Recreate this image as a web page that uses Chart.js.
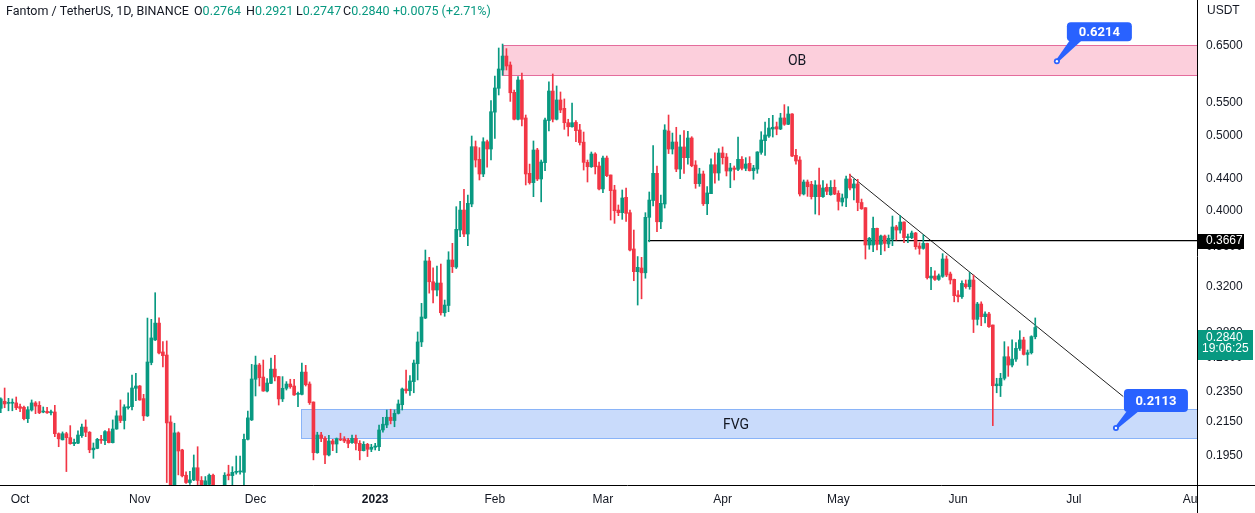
<!DOCTYPE html>
<html lang="en">
<head>
<meta charset="UTF-8">
<title>Fantom / TetherUS, 1D</title>
<style>
  body { margin: 0; background: #ffffff; }
  .wrap { position: relative; width: 1255px; height: 513px; }
</style>
<script src="https://cdn.jsdelivr.net/npm/chart.js"></script>
</head>
<body>
<div class="wrap"><canvas id="chart"></canvas></div>
<script>
// day numbers are counted from 1 Oct 2022; the first candle is 26 Sep 2022
const firstDay = -5;

const opens = [
  .2239,.2286,.2272,.2273,.2275,.2250,.2246,.2172,.2228,.2275,
  .2259,.2215,.2219,.2210,.2215,.2078,.2041,.2078,.2054,.2018,
  .2021,.2066,.2119,.2087,.1982,.1990,.2044,.2036,.2091,.2024,
  .2107,.2190,.2160,.2243,.2250,.2375,.2391,.2304,.2190,.2562,
  .2738,.2877,.2643,.2619,.2151,.1760,.2083,.1981,.1839,.1800,
  .1814,.1880,.1811,.1775,.1790,.1839,.1740,.1720,.1765,.1845,
  .1837,.1855,.1857,.1855,.2044,.2164,.2439,.2543,.2455,.2356,
  .2410,.2513,.2458,.2302,.2375,.2405,.2391,.2333,.2333,.2491,
  .2405,.2281,.1965,.2070,.2050,.1952,.2034,.2016,.2044,.2046,
  .2040,.2024,.2050,.2020,.1977,.2014,.1985,.1997,.2000,.2101,
  .2132,.2181,.2160,.2206,.2263,.2370,.2358,.2422,.2553,.2722,
  .2920,.3454,.3249,.3171,.3237,.2966,.3030,.3464,.3392,.3783,
  .4012,.3739,.4084,.4834,.4657,.4461,.4905,.4801,.5351,.5740,
  .6057,.6311,.6147,.5672,.5240,.5882,.5260,.4470,.4349,.4787,
  .4396,.4612,.5220,.5694,.5240,.5546,.5411,.5187,.5126,.5192,
  .5077,.4899,.4616,.4557,.4731,.4567,.4269,.4675,.4448,.4256,
  .4012,.3981,.4165,.3981,.3578,.3347,.3383,.3336,.3927,.4126,
  .4470,.3876,.4084,.5062,.4801,.4901,.4526,.4830,.4680,.4959,
  .4580,.4336,.4461,.4087,.4210,.4584,.4474,.4745,.4689,.4500,
  .4540,.4522,.4658,.4536,.4603,.4504,.4526,.4754,.4920,.4988,
  .5092,.5126,.5092,.5260,.5163,.5322,.4713,.4648,.4206,.4357,
  .4327,.4173,.4319,.4173,.4289,.4198,.4289,.4215,.4108,.4157,
  .4396,.4281,.4332,.4102,.4040,.3620,.3620,.3802,.3627,.3717,
  .3631,.3681,.3817,.3783,.3873,.3699,.3699,.3750,.3609,.3584,
  .3637,.3285,.3304,.3272,.3301,.3474,.3324,.3272,.3125,.3109,
  .3228,.3202,.3266,.2909,.3043,.2932,.2955,.2861,.2393,.2393,
  .2446,.2606,.2543,.2588,.2671,.2738,.2624,.2637,.2764
];
const highs = [
  .2309,.2377,.2306,.2302,.2315,.2268,.2254,.2250,.2295,.2284,
  .2284,.2248,.2246,.2228,.2259,.2083,.2089,.2087,.2128,.2046,
  .2095,.2137,.2164,.2091,.2022,.2050,.2068,.2097,.2109,.2164,
  .2223,.2295,.2263,.2344,.2470,.2482,.2395,.2333,.2920,.2909,
  .3146,.2923,.2724,.2730,.2190,.2143,.2089,.1985,.1857,.1861,
  .1952,.2000,.1832,.1832,.1846,.1845,.1780,.1775,.1853,.1894,
  .1886,.1946,.1946,.2076,.2221,.2548,.2611,.2555,.2581,.2443,
  .2596,.2617,.2460,.2458,.2422,.2439,.2439,.2349,.2558,.2541,
  .2420,.2282,.2087,.2087,.2060,.2068,.2044,.2052,.2081,.2060,
  .2050,.2070,.2070,.2036,.2030,.2020,.2014,.2020,.2132,.2181,
  .2228,.2233,.2228,.2295,.2377,.2506,.2465,.2581,.2803,.3049,
  .3567,.3491,.3386,.3403,.3423,.3079,.3549,.3638,.4052,.4116,
  .4265,.4194,.4988,.4916,.4820,.4963,.4930,.5535,.5951,.6462,
  .6538,.6450,.6202,.5711,.5940,.6004,.5306,.4593,.4916,.4811,
  .4648,.5260,.5848,.5987,.5779,.5678,.5563,.5240,.5497,.5218,
  .5163,.5047,.4648,.4759,.4749,.4621,.4703,.4703,.4448,.4315,
  .4072,.4256,.4281,.4012,.3783,.3499,.3491,.3981,.4231,.4848,
  .4567,.4194,.5157,.5306,.5032,.5118,.5003,.5067,.5058,.4978,
  .4639,.4537,.4500,.4298,.4666,.4749,.4806,.4830,.4738,.4603,
  .4567,.4973,.4694,.4680,.4694,.4576,.4764,.5052,.5197,.5255,
  .5301,.5197,.5333,.5470,.5438,.5330,.4797,.4694,.4383,.4383,
  .4366,.4375,.4540,.4375,.4332,.4375,.4383,.4247,.4206,.4435,
  .4461,.4392,.4392,.4144,.4040,.3702,.3931,.3805,.3728,.3728,
  .3728,.3942,.3835,.3946,.3876,.3739,.3772,.3757,.3645,.3731,
  .3640,.3390,.3356,.3324,.3529,.3505,.3343,.3275,.3165,.3259,
  .3266,.3340,.3314,.3058,.3063,.2975,.2970,.2861,.2446,.2482,
  .2724,.2684,.2738,.2716,.2813,.2760,.2658,.2772,.2921
];
const lows = [
  .2210,.2243,.2223,.2223,.2230,.2217,.2164,.2147,.2221,.2204,
  .2204,.2210,.2206,.2196,.2060,.2000,.2040,.1859,.2015,.2006,
  .2018,.2056,.2060,.1965,.1933,.1988,.2020,.2012,.2022,.2022,
  .2105,.2147,.2107,.2233,.2228,.2290,.2293,.2160,.2186,.2545,
  .2733,.2627,.2530,.1800,.1700,.1740,.1841,.1830,.1795,.1790,
  .1810,.1789,.1745,.1750,.1770,.1700,.1690,.1680,.1740,.1814,
  .1770,.1845,.1845,.1785,.2040,.2160,.2322,.2391,.2354,.2349,
  .2408,.2427,.2261,.2284,.2363,.2375,.2325,.2250,.2329,.2391,
  .2265,.1924,.1962,.2030,.1903,.1946,.1977,.1965,.2036,.2024,
  .1994,.2020,.1981,.1924,.1975,.1943,.1971,.1981,.1977,.2087,
  .2115,.2139,.2121,.2202,.2228,.2341,.2325,.2344,.2434,.2685,
  .2915,.3142,.3054,.3116,.2946,.2935,.2975,.3338,.3378,.3710,
  .3710,.3613,.4051,.4553,.4383,.4426,.4550,.4648,.4953,.5628,
  .5961,.6057,.5523,.5229,.5229,.5137,.4319,.4330,.4173,.4375,
  .4110,.4504,.5063,.5199,.5229,.5343,.5087,.4988,.5120,.4905,
  .4858,.4513,.4357,.4548,.4461,.4256,.4222,.4426,.3896,.3858,
  .3946,.3904,.3881,.3557,.3259,.3034,.3090,.3283,.3654,.4060,
  .3764,.3799,.4036,.4737,.4731,.4491,.4400,.4470,.4593,.4557,
  .4277,.4302,.4066,.3957,.4210,.4341,.4379,.4593,.4435,.4285,
  .4383,.4504,.4513,.4504,.4500,.4392,.4470,.4727,.4713,.4968,
  .4973,.5006,.5082,.5147,.5157,.4694,.4593,.4181,.4194,.4177,
  .4144,.3965,.3954,.4165,.4198,.4190,.4198,.4012,.4060,.4051,
  .4256,.4132,.4004,.4020,.3474,.3575,.3549,.3567,.3518,.3557,
  .3592,.3613,.3673,.3747,.3644,.3644,.3688,.3575,.3523,.3575,
  .3275,.3174,.3262,.3262,.3291,.3298,.3228,.3063,.3063,.3093,
  .3187,.3178,.2798,.2861,.2855,.2878,.2841,.2128,.2344,.2318,
  .2434,.2460,.2530,.2571,.2655,.2619,.2541,.2627,.2747
];
const closes = [
  .2302,.2268,.2276,.2276,.2243,.2239,.2172,.2230,.2275,.2254,
  .2210,.2221,.2210,.2217,.2078,.2047,.2078,.2054,.2018,.2026,
  .2070,.2119,.2087,.1982,.1992,.2044,.2038,.2091,.2024,.2107,
  .2190,.2160,.2248,.2250,.2377,.2391,.2295,.2190,.2566,.2754,
  .2877,.2635,.2614,.2145,.1760,.2083,.1975,.1836,.1800,.1814,
  .1880,.1811,.1775,.1809,.1839,.1740,.1720,.1760,.1839,.1837,
  .1855,.1857,.1860,.2044,.2177,.2441,.2543,.2450,.2356,.2412,
  .2513,.2455,.2302,.2375,.2405,.2386,.2329,.2340,.2491,.2400,
  .2277,.1965,.2070,.2050,.1952,.2034,.2016,.2048,.2040,.2034,
  .2020,.2050,.2020,.1977,.2014,.1985,.1997,.2004,.2101,.2137,
  .2181,.2160,.2206,.2268,.2370,.2358,.2427,.2558,.2722,.2929,
  .3454,.3249,.3171,.3237,.2966,.3034,.3464,.3396,.3791,.4012,
  .3739,.4092,.4834,.4648,.4461,.4905,.4801,.5358,.5745,.6075,
  .6311,.6129,.5665,.5240,.5882,.5240,.4461,.4349,.4787,.4396,
  .4621,.5229,.5694,.5240,.5546,.5385,.5187,.5126,.5187,.5067,
  .4893,.4616,.4557,.4731,.4557,.4269,.4675,.4439,.4247,.4004,
  .3981,.4157,.3973,.3567,.3347,.3390,.3336,.3927,.4132,.4470,
  .3876,.4092,.5077,.4801,.4901,.4526,.4830,.4680,.4959,.4571,
  .4336,.4461,.4087,.4219,.4584,.4474,.4745,.4680,.4500,.4540,
  .4522,.4658,.4536,.4594,.4504,.4540,.4759,.4930,.5003,.5107,
  .5118,.5092,.5260,.5163,.5322,.4703,.4635,.4206,.4357,.4297,
  .4173,.4319,.4173,.4281,.4239,.4289,.4206,.4116,.4157,.4396,
  .4281,.4332,.4102,.4027,.3620,.3692,.3802,.3627,.3717,.3637,
  .3692,.3817,.3783,.3873,.3699,.3706,.3750,.3602,.3584,.3637,
  .3288,.3304,.3272,.3307,.3474,.3314,.3266,.3119,.3109,.3234,
  .3202,.3266,.2909,.3043,.2932,.2955,.2847,.2393,.2405,.2446,
  .2606,.2543,.2588,.2671,.2738,.2624,.2637,.2765,.2840
];

const monthDays = [0, 31, 61, 92, 123, 151, 182, 212, 243, 273, 304];
const monthLabels = ['Oct', 'Nov', 'Dec', '2023', 'Feb', 'Mar', 'Apr', 'May', 'Jun', 'Jul', 'Aug'];
const yTicks = [0.65, 0.55, 0.50, 0.44, 0.40, 0.36, 0.32, 0.28, 0.26, 0.235, 0.215, 0.195];

// drawings
const zoneNames = ['OB', 'FVG'];
const zoneStart = [125.0, 72.9];
const zoneTop = [0.6515, 0.2234];
const zoneBottom = [0.5972, 0.2050];
const zoneLabelDay = [201.3, 185.5];
const levelPrice = 0.3667;
const levelStart = 162.7;
const trendDays = [214.8, 285.8];
const trendPrices = [0.4455, 0.2318];
const noteDays = [268.6, 283.9];
const notePrices = [0.6214, 0.2113];
const countdown = '19:06:25';

const UP = '#089981', DOWN = '#f23645', INK = '#131722';
const AXIS_FONT = "'Liberation Sans Narrow', 'Liberation Sans', Arial, sans-serif";
const zoneFill = ['rgba(242, 54, 110, 0.24)', 'rgba(41, 110, 240, 0.25)'];
const zoneLine = ['#e46c9c', '#8ab4f8'];
const noteBox = [[10, -39, 65, 19], [8, -39, 64, 23]];

const days = closes.map((c, i) => firstDay + i);
const candleColors = closes.map((c, i) => c >= opens[i] ? UP : DOWN);

const overlay = {
  id: 'overlay',
  beforeDatasetsDraw(chart) {
    const { ctx, chartArea: a, scales: { x, y } } = chart;
    ctx.save();
    ctx.beginPath();
    ctx.rect(a.left, a.top, a.right - a.left, a.bottom - a.top);
    ctx.clip();
    zoneNames.forEach((name, i) => {
      const x0 = Math.round(x.getPixelForValue(zoneStart[i])) + 0.5;
      const y0 = Math.round(y.getPixelForValue(zoneTop[i])) + 0.5;
      const y1 = Math.round(y.getPixelForValue(zoneBottom[i])) + 0.5;
      ctx.fillStyle = zoneFill[i];
      ctx.fillRect(x0, y0, a.right - x0 + 2, y1 - y0);
      ctx.strokeStyle = zoneLine[i];
      ctx.lineWidth = 1;
      ctx.strokeRect(x0, y0, a.right - x0 + 2, y1 - y0);
      ctx.fillStyle = INK;
      ctx.font = '14px Roboto, sans-serif';
      ctx.textAlign = 'center';
      ctx.textBaseline = 'middle';
      ctx.fillText(name, x.getPixelForValue(zoneLabelDay[i]), (y0 + y1) / 2 + 1);
    });
    ctx.restore();
  },
  afterDraw(chart) {
    const { ctx, chartArea: a, scales: { x, y } } = chart;
    const W = chart.width, H = chart.height;
    ctx.save();

    // price notes
    notePrices.forEach((p, i) => {
      const px = x.getPixelForValue(noteDays[i]), py = y.getPixelForValue(p);
      const [dx, dy, w, h] = noteBox[i];
      const bx = px + dx, by = py + dy;
      ctx.fillStyle = '#2962ff';
      ctx.beginPath();
      ctx.roundRect(bx, by, w, h, 4);
      ctx.fill();
      ctx.beginPath();
      ctx.moveTo(bx + 3, by + h - 1);
      ctx.lineTo(bx + 15, by + h - 1);
      ctx.lineTo(px + 1, py + 1);
      ctx.lineTo(px - 1, py - 1);
      ctx.closePath();
      ctx.fill();
      ctx.beginPath();
      ctx.arc(px, py, 3, 0, Math.PI * 2);
      ctx.fill();
      ctx.fillStyle = '#ffffff';
      ctx.beginPath();
      ctx.arc(px, py, 1.2, 0, Math.PI * 2);
      ctx.fill();
      ctx.font = 'bold 13px Roboto, sans-serif';
      ctx.textAlign = 'center';
      ctx.textBaseline = 'middle';
      ctx.fillText(p.toFixed(4), bx + w / 2, by + h / 2 + 1);
    });

    // panel edges
    ctx.fillStyle = '#ffffff';
    ctx.fillRect(a.right, a.bottom + 1, W - a.right, H - a.bottom);
    ctx.strokeStyle = '#000000';
    ctx.lineWidth = 1;
    ctx.beginPath();
    ctx.moveTo(Math.round(a.right) + 0.5, 0);
    ctx.lineTo(Math.round(a.right) + 0.5, H);
    ctx.moveTo(0, Math.round(a.bottom) + 0.5);
    ctx.lineTo(W, Math.round(a.bottom) + 0.5);
    ctx.stroke();

    // axis labels for the level and the last price
    ctx.textAlign = 'left';
    ctx.textBaseline = 'middle';
    ctx.font = '12px ' + AXIS_FONT;
    const ly = y.getPixelForValue(levelPrice);
    ctx.fillStyle = '#000000';
    ctx.fillRect(a.right + 1, Math.round(ly) - 7, 46, 15);
    ctx.fillStyle = '#ffffff';
    ctx.fillText(levelPrice.toFixed(4), a.right + 9, ly + 0.5);

    const last = closes.length - 1;
    const cy = y.getPixelForValue(closes[last]);
    ctx.fillStyle = UP;
    ctx.fillRect(a.right + 1, Math.round(cy) + 2, 55, 30);
    ctx.fillStyle = '#ffffff';
    ctx.fillText(closes[last].toFixed(4), a.right + 9, cy + 10);
    ctx.fillText(countdown, a.right + 5, cy + 21);

    ctx.fillStyle = INK;
    ctx.font = '12px ' + AXIS_FONT;
    ctx.fillText('USDT', a.right + 10, 11);

    // legend line
    const chg = closes[last] - closes[last - 1];
    const parts = [
      [6, 'Fantom / TetherUS, 1D, BINANCE', null],
      [194, 'O', opens[last].toFixed(4)],
      [246, 'H', highs[last].toFixed(4)],
      [296, 'L', lows[last].toFixed(4)],
      [343, 'C', closes[last].toFixed(4)]
    ];
    ctx.font = '12.5px Roboto, sans-serif';
    parts.forEach(([px, label, val]) => {
      ctx.fillStyle = INK;
      ctx.fillText(label, px, 12);
      if (val) {
        ctx.fillStyle = UP;
        ctx.fillText(val, px + ctx.measureText(label).width, 12);
      }
    });
    ctx.fillStyle = UP;
    ctx.fillText('+' + chg.toFixed(4) + ' (+' + (chg / closes[last - 1] * 100).toFixed(2) + '%)', 393, 12);
    ctx.restore();
  }
};

new Chart(document.getElementById('chart'), {
  type: 'bar',
  data: {
    datasets: [
      {
        label: 'body',
        order: 0,
        data: days.map((d, i) => ({ x: d, y: [opens[i], closes[i]] })),
        backgroundColor: candleColors,
        barThickness: 3,
        minBarLength: 1,
        grouped: false
      },
      {
        label: 'wick',
        order: 1,
        data: days.map((d, i) => ({ x: d, y: [lows[i], highs[i]] })),
        backgroundColor: candleColors,
        barThickness: 1,
        grouped: false
      },
      {
        type: 'line',
        label: 'level',
        order: 2,
        data: [{ x: levelStart, y: levelPrice }, { x: 305, y: levelPrice }],
        borderColor: '#000000',
        borderWidth: 1.2,
        pointRadius: 0
      },
      {
        type: 'line',
        label: 'trend',
        order: 2,
        data: trendDays.map((d, i) => ({ x: d, y: trendPrices[i] })),
        borderColor: '#222222',
        borderWidth: 1,
        pointRadius: 0
      }
    ]
  },
  options: {
    responsive: true,
    maintainAspectRatio: false,
    animation: false,
    layout: { padding: 0 },
    plugins: { legend: { display: false }, tooltip: { enabled: false } },
    scales: {
      x: {
        type: 'linear',
        offset: false,
        min: -5.2,
        max: 304.9,
        grid: { display: false, drawTicks: false },
        border: { display: false },
        afterBuildTicks: s => { s.ticks = monthDays.map(v => ({ value: v })); },
        afterFit: s => { s.height = 28; s.paddingLeft = 0; s.paddingRight = 0; },
        ticks: {
          autoSkip: false,
          maxRotation: 0,
          padding: 7,
          color: INK,
          font: c => ({ family: AXIS_FONT, size: 12, weight: c.tick && c.tick.value === 92 ? 'bold' : 'normal' }),
          callback: v => monthLabels[monthDays.indexOf(v)]
        }
      },
      y: {
        type: 'logarithmic',
        position: 'right',
        min: 0.1787,
        max: 0.7442,
        grid: { display: false, drawTicks: false },
        border: { display: false },
        afterBuildTicks: s => { s.ticks = yTicks.map(v => ({ value: v })); },
        afterFit: s => { s.width = 58; s.paddingTop = 0; s.paddingBottom = 0; },
        ticks: {
          autoSkip: false,
          padding: 9,
          color: INK,
          font: { family: AXIS_FONT, size: 12 },
          callback: v => Number(v).toFixed(4)
        }
      }
    }
  },
  plugins: [overlay]
});
</script>
</body>
</html>
